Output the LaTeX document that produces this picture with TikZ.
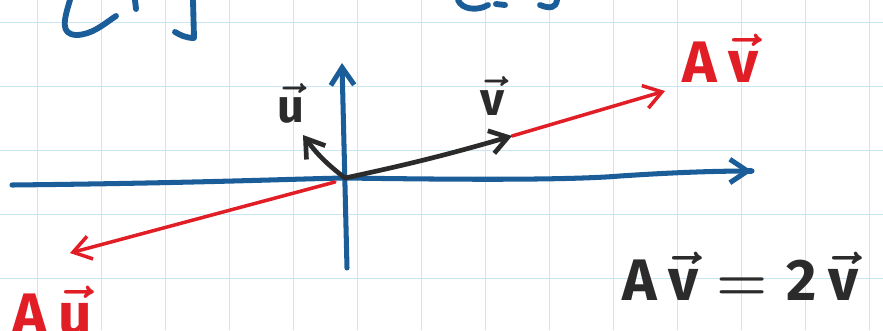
\documentclass[tikz,border=0pt]{standalone}
\usepackage{fix-cm}
\usepackage{amsmath}
\usepackage{fontspec}
\setmainfont{Fira Sans}
\usetikzlibrary{arrows.meta}
\definecolor{penblue}{HTML}{1B5D99}
\definecolor{penred}{HTML}{E11D25}
\definecolor{penblack}{HTML}{2B2B2B}
\definecolor{gridblue}{HTML}{C9E6F4}
\tikzset{
  gridline/.style={gridblue, line width=0.7pt},
  axis/.style={penblue, line width=4.3pt},
  bracket/.style={penblue, line width=5pt},
  vecblack/.style={penblack, line width=4pt},
  vecred/.style={penred, line width=3pt},
  barb/.style={-{Straight Barb[length=15pt,width=20pt]}},
  smallhand/.style={font=\fontsize{40}{44}\selectfont\bfseries\boldmath},
  bighand/.style={font=\fontsize{50}{54}\selectfont\bfseries\boldmath},
}
\begin{document}
\begin{tikzpicture}[x=0.03cm, y=-0.03cm, line cap=round, line join=round]
	\useasboundingbox (0,0) rectangle (883,330);
	\clip (0,0) rectangle (883,330);
	% squared paper
	\foreach \gx in {37,101,...,869} \draw[gridline] (\gx,0) -- (\gx,330);
	\foreach \gy in {22,86,...,278} \draw[gridline] (0,\gy) -- (883,\gy);
	% matrix brackets cut off at the top
	\draw[bracket] (70,0) .. controls (64,20) and (60,34) .. (76,35) .. controls (92,35) and (104,24) .. (116,16);
	\draw[bracket] (135,0) -- (136,9);
	\draw[bracket] (193,0) -- (194,38) .. controls (186,38) and (180,35) .. (175,32);
	\draw[bracket] (458,0) .. controls (462,10) and (478,11) .. (488,5);
	\draw[bracket] (496,4) -- (505,5);
	\draw[bracket] (540,5) .. controls (550,9) and (556,8) .. (557,0);
	% points
	\coordinate (O) at (345,178);
	\coordinate (xl) at (12,185);
	\coordinate (xr) at (752,171);
	\coordinate (yb) at (347,268);
	\coordinate (yt) at (342,63);
	\coordinate (u) at (303,135);
	\coordinate (v) at (512,136);
	\coordinate (Av) at (665,91);
	\coordinate (Au0) at (335,182);
	\coordinate (Au) at (70,253);
	% axes
	\draw[axis] (xl) .. controls (200,183) and (290,179) .. (O) .. controls (420,179) and (560,181) .. (620,176) .. controls (680,172) and (720,171) .. (xr);
	\draw[axis, barb] (xr) ++(-1,0) -- (xr);
	\draw[axis, barb] (yb) -- (yt);
	% vectors
	\draw[vecred, barb] (v) -- (Av);
	\draw[vecred, barb] (Au0) -- (Au);
	\draw[vecblack, barb] (O) to[bend left=8] (u);
	\draw[vecblack, barb] (O) to[bend right=2] (v);
	% labels
	\node[smallhand, penblack, anchor=base] (ulabel) at (291,122) {$\vec{\text{u}}$};
	\node[smallhand, penblack, anchor=base] (vlabel) at (493,115) {$\vec{\text{v}}$};
	\node[bighand, penred, anchor=base west, inner sep=0pt] (Avlabel) at (682,82) {$\text{A}\,\vec{\text{v}}$};
	\node[bighand, penred, anchor=base west, inner sep=0pt] (Aulabel) at (12,334) {$\text{A}\,\vec{\text{u}}$};
	\node[bighand, penblack, anchor=base west, inner sep=0pt] (eqlabel) at (622,300) {$\text{A}\,\vec{\text{v}} = \text{2}\,\vec{\text{v}}$};
\end{tikzpicture}
\end{document}
